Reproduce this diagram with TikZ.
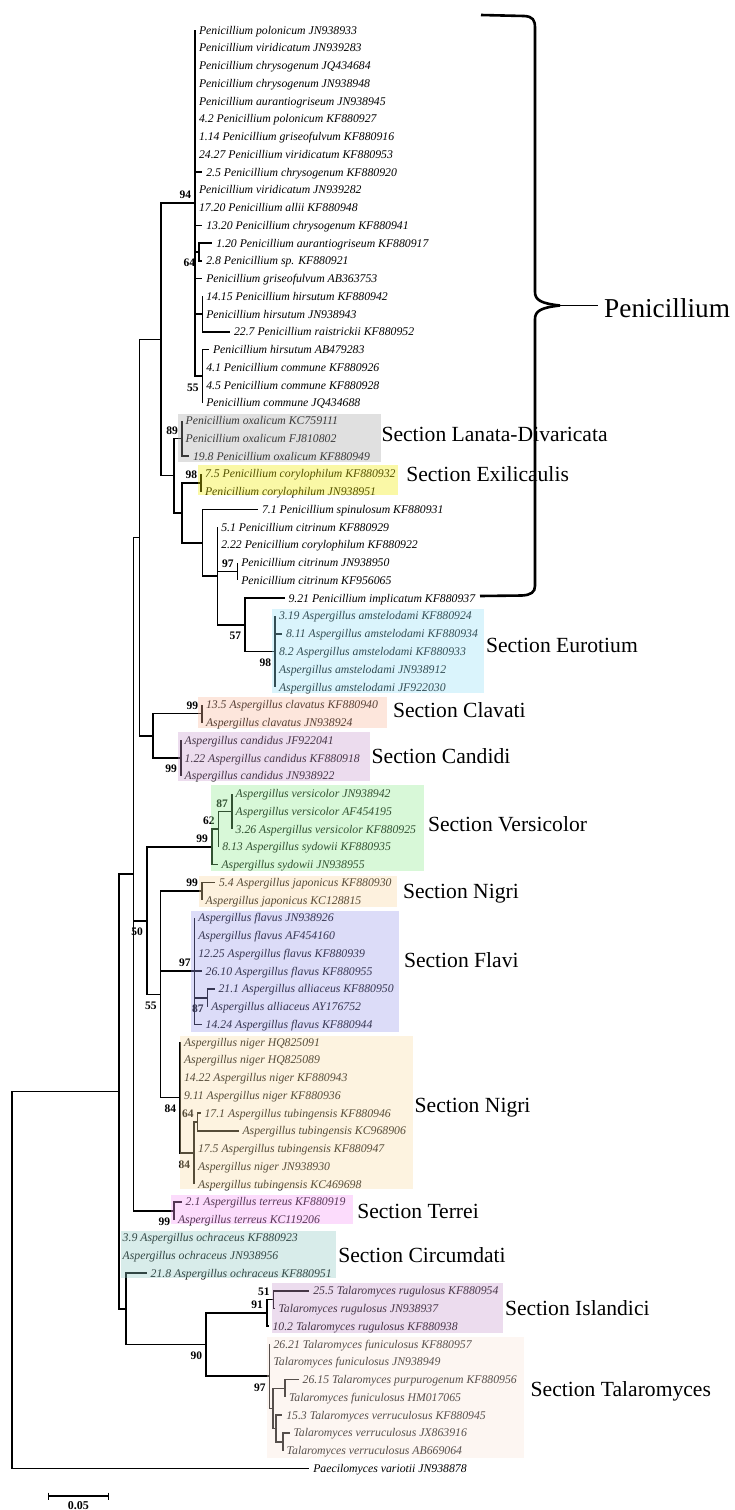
\documentclass[tikz,border=0pt]{standalone}
\usepackage{fontspec}
\setmainfont{Liberation Serif}
\definecolor{cLD}{RGB}{166,166,166}
\definecolor{cEx}{RGB}{241,235,0}
\definecolor{cEu}{RGB}{149,224,246}
\definecolor{cCl}{RGB}{249,184,155}
\definecolor{cCa}{RGB}{201,155,206}
\definecolor{cVe}{RGB}{144,235,144}
\definecolor{cNa}{RGB}{249,215,161}
\definecolor{cFl}{RGB}{155,155,235}
\definecolor{cNb}{RGB}{249,221,166}
\definecolor{cTe}{RGB}{246,155,246}
\definecolor{cCi}{RGB}{144,201,195}
\definecolor{cIs}{RGB}{201,155,206}
\definecolor{cTa}{RGB}{249,229,218}
\begin{document}
\begin{tikzpicture}[x=1pt,y=-1pt,
  br/.style={line width=1.6pt},
  leaf/.style={anchor=west, inner xsep=4pt, inner ysep=0pt, outer sep=0pt, text height=8pt, text depth=0pt, font=\fontsize{11.75}{12}\selectfont\itshape},
  bs/.style={anchor=base east, inner sep=0pt, outer sep=0pt, font=\fontsize{11.5}{12}\selectfont\bfseries},
  bsup/.style={bs, xshift=-3.8pt, yshift=4.3pt},
  bsdn/.style={bs, xshift=-3.8pt, yshift=-14.9pt},
  sec/.style={anchor=base west, inner sep=0pt, outer sep=0pt, font=\fontsize{21.6}{24}\selectfont},
  ov/.style={fill opacity=0.35}]
\useasboundingbox (0,0) rectangle (735,1510);

\begin{scope}[y=-17.757pt, yshift=-30pt]
% internal nodes
\coordinate (root) at (11.7,70.39);
\coordinate (nK) at (118.7,59.78);
\coordinate (nH) at (133.3,47.54);
\coordinate (nB) at (139.3,28.585);
\coordinate (nA) at (161,17.42);
\coordinate (n94) at (195,9.75);
\coordinate (n64) at (199,12.5);
\coordinate (nHir) at (202.3,16);
\coordinate (n55) at (202.3,19.5);
\coordinate (nC) at (174,25.09);
\coordinate (n89) at (181.7,23);
\coordinate (nD) at (181.7,27.1875);
\coordinate (n98) at (201,25.5);
\coordinate (nE) at (202.3,28.875);
\coordinate (nF) at (217.3,30.75);
\coordinate (n97c) at (237.3,30.5);
\coordinate (nG) at (245,33.5);
\coordinate (nEur) at (275,35);
\coordinate (nCC) at (152.7,39.75);
\coordinate (nCl) at (202,38.5);
\coordinate (nCa) at (180.7,41);
\coordinate (nI) at (146.7,50.16);
\coordinate (nV) at (211.7,46);
\coordinate (n62) at (218.3,45);
\coordinate (n87v) at (231.7,44);
\coordinate (nJ) at (160.3,54.31);
\coordinate (nJap) at (201.7,48.5);
\coordinate (nFl) at (194.3,53);
\coordinate (n87f) at (207.3,54.5);
\coordinate (nNi) at (180,60.125);
\coordinate (n84b) at (194,63.25);
\coordinate (n64n) at (197.3,61.5);
\coordinate (nTer) at (174,66.5);
\coordinate (nL) at (125.7,72.02);
\coordinate (n90) at (206,74.03);
\coordinate (n91) at (266.7,72.25);
\coordinate (n51) at (273.3,71.5);
\coordinate (nT) at (269.5,75.81);
\coordinate (nQ) at (272.7,77.625);
\coordinate (nP) at (285,76.5);
\coordinate (nR) at (276,78.75);
\coordinate (nS) at (282.7,79.5);

% leaves
\node[leaf] (l0) at (195,0) {Penicillium polonicum JN938933};
\node[leaf] (l1) at (195,1) {Penicillium viridicatum JN939283};
\node[leaf] (l2) at (195,2) {Penicillium chrysogenum JQ434684};
\node[leaf] (l3) at (195,3) {Penicillium chrysogenum JN938948};
\node[leaf] (l4) at (195,4) {Penicillium aurantiogriseum JN938945};
\node[leaf] (l5) at (195,5) {4.2 Penicillium polonicum KF880927};
\node[leaf] (l6) at (195,6) {1.14 Penicillium griseofulvum KF880916};
\node[leaf] (l7) at (195,7) {24.27 Penicillium viridicatum KF880953};
\node[leaf] (l8) at (202.3,8) {2.5 Penicillium chrysogenum KF880920};
\node[leaf] (l9) at (195,9) {Penicillium viridicatum JN939282};
\node[leaf] (l10) at (195,10) {17.20 Penicillium allii KF880948};
\node[leaf] (l11) at (202.3,11) {13.20 Penicillium chrysogenum KF880941};
\node[leaf] (l12) at (212.3,12) {1.20 Penicillium aurantiogriseum KF880917};
\node[leaf] (l13) at (202.3,13) {2.8 Penicillium sp. KF880921};
\node[leaf] (l14) at (202.3,14) {Penicillium griseofulvum AB363753};
\node[leaf] (l15) at (202.3,15) {14.15 Penicillium hirsutum KF880942};
\node[leaf] (l16) at (202.3,16) {Penicillium hirsutum JN938943};
\node[leaf] (l17) at (230,17) {22.7 Penicillium raistrickii KF880952};
\node[leaf] (l18) at (209,18) {Penicillium hirsutum AB479283};
\node[leaf] (l19) at (202.3,19) {4.1 Penicillium commune KF880926};
\node[leaf] (l20) at (202.3,20) {4.5 Penicillium commune KF880928};
\node[leaf] (l21) at (202.3,21) {Penicillium commune JQ434688};
\node[leaf] (l22) at (181.7,22) {Penicillium oxalicum KC759111};
\node[leaf] (l23) at (181.7,23) {Penicillium oxalicum FJ810802};
\node[leaf] (l24) at (189,24) {19.8 Penicillium oxalicum KF880949};
\node[leaf] (l25) at (201,25) {7.5 Penicillium corylophilum KF880932};
\node[leaf] (l26) at (201,26) {Penicillium corylophilum JN938951};
\node[leaf] (l27) at (258,27) {7.1 Penicillium spinulosum KF880931};
\node[leaf] (l28) at (217.3,28) {5.1 Penicillium citrinum KF880929};
\node[leaf] (l29) at (217.3,29) {2.22 Penicillium corylophilum KF880922};
\node[leaf] (l30) at (237.3,30) {Penicillium citrinum JN938950};
\node[leaf] (l31) at (237.3,31) {Penicillium citrinum KF956065};
\node[leaf] (l32) at (284.5,32) {9.21 Penicillium implicatum KF880937};
\node[leaf] (l33) at (275,33) {3.19 Aspergillus amstelodami KF880924};
\node[leaf] (l34) at (282,34) {8.11 Aspergillus amstelodami KF880934};
\node[leaf] (l35) at (275,35) {8.2 Aspergillus amstelodami KF880933};
\node[leaf] (l36) at (275,36) {Aspergillus amstelodami JN938912};
\node[leaf] (l37) at (275,37) {Aspergillus amstelodami JF922030};
\node[leaf] (l38) at (202,38) {13.5 Aspergillus clavatus KF880940};
\node[leaf] (l39) at (202,39) {Aspergillus clavatus JN938924};
\node[leaf] (l40) at (180.7,40) {Aspergillus candidus JF922041};
\node[leaf] (l41) at (180.7,41) {1.22 Aspergillus candidus KF880918};
\node[leaf] (l42) at (180.7,42) {Aspergillus candidus JN938922};
\node[leaf] (l43) at (231.7,43) {Aspergillus versicolor JN938942};
\node[leaf] (l44) at (231.7,44) {Aspergillus versicolor AF454195};
\node[leaf] (l45) at (231.7,45) {3.26 Aspergillus versicolor KF880925};
\node[leaf] (l46) at (218.3,46) {8.13 Aspergillus sydowii KF880935};
\node[leaf] (l47) at (217.5,47) {Aspergillus sydowii JN938955};
\node[leaf] (l48) at (215,48) {5.4 Aspergillus japonicus KF880930};
\node[leaf] (l49) at (201.7,49) {Aspergillus japonicus KC128815};
\node[leaf] (l50) at (194.3,50) {Aspergillus flavus JN938926};
\node[leaf] (l51) at (194.3,51) {Aspergillus flavus AF454160};
\node[leaf] (l52) at (194.3,52) {12.25 Aspergillus flavus KF880939};
\node[leaf] (l53) at (201.7,53) {26.10 Aspergillus flavus KF880955};
\node[leaf] (l54) at (214.5,54) {21.1 Aspergillus alliaceus KF880950};
\node[leaf] (l55) at (207.3,55) {Aspergillus alliaceus AY176752};
\node[leaf] (l56) at (201.7,56) {14.24 Aspergillus flavus KF880944};
\node[leaf] (l57) at (180,57) {Aspergillus niger HQ825091};
\node[leaf] (l58) at (180,58) {Aspergillus niger HQ825089};
\node[leaf] (l59) at (180,59) {14.22 Aspergillus niger KF880943};
\node[leaf] (l60) at (180,60) {9.11 Aspergillus niger KF880936};
\node[leaf] (l61) at (200.5,61) {17.1 Aspergillus tubingensis KF880946};
\node[leaf] (l62) at (238.5,62) {Aspergillus tubingensis KC968906};
\node[leaf] (l63) at (194,63) {17.5 Aspergillus tubingensis KF880947};
\node[leaf] (l64) at (194,64) {Aspergillus niger JN938930};
\node[leaf] (l65) at (194,65) {Aspergillus tubingensis KC469698};
\node[leaf] (l66) at (181.7,66) {2.1 Aspergillus terreus KF880919};
\node[leaf] (l67) at (174,67) {Aspergillus terreus KC119206};
\node[leaf] (l68) at (118.7,68) {3.9 Aspergillus ochraceus KF880923};
\node[leaf] (l69) at (118.7,69) {Aspergillus ochraceus JN938956};
\node[leaf] (l70) at (146.7,70) {21.8 Aspergillus ochraceus KF880951};
\node[leaf] (l71) at (309.3,71) {25.5 Talaromyces rugulosus KF880954};
\node[leaf] (l72) at (274.5,72) {Talaromyces rugulosus JN938937};
\node[leaf] (l73) at (268.5,73) {10.2 Talaromyces rugulosus KF880938};
\node[leaf] (l74) at (269.5,74) {26.21 Talaromyces funiculosus KF880957};
\node[leaf] (l75) at (269.5,75) {Talaromyces funiculosus JN938949};
\node[leaf] (l76) at (298.7,76) {26.15 Talaromyces purpurogenum KF880956};
\node[leaf] (l77) at (285,77) {Talaromyces funiculosus HM017065};
\node[leaf] (l78) at (282.3,78) {15.3 Talaromyces verruculosus KF880945};
\node[leaf] (l79) at (289.5,79) {Talaromyces verruculosus JX863916};
\node[leaf] (l80) at (282.7,80) {Talaromyces verruculosus AB669064};
\node[leaf] (l81) at (309.3,81) {Paecilomyces variotii JN938878};
\end{scope}

% branches
\draw[br] (root) |- (nK);
\draw[br] (root) |- (l81.west);
\draw[br] (nK) |- (nH);
\draw[br] (nK) |- (l68.west);
\draw[br] (nK) |- (l69.west);
\draw[br] (nK) |- (nL);
\draw[br] (nH) |- (nB);
\draw[br] (nH) |- (nI);
\draw[br] (nH) |- (nTer);
\draw[br] (nB) |- (nA);
\draw[br] (nB) |- (nCC);
\draw[br] (nA) |- (n94);
\draw[br] (nA) |- (nC);
\foreach \i in {0,...,11,14} \draw[br] (n94) |- (l\i.west);
\draw[br] (n94) |- (n64);
\draw[br] (n94) |- (nHir);
\draw[br] (n94) |- (n55);
\foreach \i in {12,13} \draw[br] (n64) |- (l\i.west);
\foreach \i in {15,16,17} \draw[br] (nHir) |- (l\i.west);
\foreach \i in {18,...,21} \draw[br] (n55) |- (l\i.west);
\draw[br] (nC) |- (n89);
\draw[br] (nC) |- (nD);
\foreach \i in {22,23,24} \draw[br] (n89) |- (l\i.west);
\draw[br] (nD) |- (n98);
\draw[br] (nD) |- (nE);
\foreach \i in {25,26} \draw[br] (n98) |- (l\i.west);
\draw[br] (nE) |- (l27.west);
\draw[br] (nE) |- (nF);
\foreach \i in {28,29} \draw[br] (nF) |- (l\i.west);
\draw[br] (nF) |- (n97c);
\draw[br] (nF) |- (nG);
\foreach \i in {30,31} \draw[br] (n97c) |- (l\i.west);
\draw[br] (nG) |- (l32.west);
\draw[br] (nG) |- (nEur);
\foreach \i in {33,...,37} \draw[br] (nEur) |- (l\i.west);
\draw[br] (nCC) |- (nCl);
\draw[br] (nCC) |- (nCa);
\foreach \i in {38,39} \draw[br] (nCl) |- (l\i.west);
\foreach \i in {40,41,42} \draw[br] (nCa) |- (l\i.west);
\draw[br] (nI) |- (nV);
\draw[br] (nI) |- (nJ);
\draw[br] (nV) |- (n62);
\draw[br] (nV) |- (l47.west);
\draw[br] (n62) |- (n87v);
\draw[br] (n62) |- (l46.west);
\foreach \i in {43,44,45} \draw[br] (n87v) |- (l\i.west);
\draw[br] (nJ) |- (nJap);
\draw[br] (nJ) |- (nFl);
\draw[br] (nJ) |- (nNi);
\foreach \i in {48,49} \draw[br] (nJap) |- (l\i.west);
\foreach \i in {50,...,53,56} \draw[br] (nFl) |- (l\i.west);
\draw[br] (nFl) |- (n87f);
\foreach \i in {54,55} \draw[br] (n87f) |- (l\i.west);
\foreach \i in {57,...,60} \draw[br] (nNi) |- (l\i.west);
\draw[br] (nNi) |- (n84b);
\draw[br] (n84b) |- (n64n);
\foreach \i in {63,64,65} \draw[br] (n84b) |- (l\i.west);
\foreach \i in {61,62} \draw[br] (n64n) |- (l\i.west);
\foreach \i in {66,67} \draw[br] (nTer) |- (l\i.west);
\draw[br] (nL) |- (l70.west);
\draw[br] (nL) |- (n90);
\draw[br] (n90) |- (n91);
\draw[br] (n90) |- (nT);
\draw[br] (n91) |- (n51);
\draw[br] (n91) |- (l73.west);
\foreach \i in {71,72} \draw[br] (n51) |- (l\i.west);
\foreach \i in {74,75} \draw[br] (nT) |- (l\i.west);
\draw[br] (nT) |- (nQ);
\draw[br] (nQ) |- (nP);
\draw[br] (nQ) |- (nR);
\foreach \i in {76,77} \draw[br] (nP) |- (l\i.west);
\draw[br] (nR) |- (l78.west);
\draw[br] (nR) |- (nS);
\foreach \i in {79,80} \draw[br] (nS) |- (l\i.west);

% bootstrap values
\node[bsup] (b94) at (n94) {94};
\node[bsdn] (b64) at (n64) {64};
\node[bsdn] (b55) at (n55) {55};
\node[bsup] (b89) at (n89) {89};
\node[bsup] (b98) at (n98) {98};
\node[bsup] (b97c) at (n97c) {97};
\node[bsdn] (b57) at (nG) {57};
\node[bsdn] (b98e) at (nEur) {98};
\node[bsup] (b99cl) at (nCl) {99};
\node[bsdn] (b99ca) at (nCa) {99};
\node[bsup] (b87v) at (n87v) {87};
\node[bsup] (b62) at (n62) {62};
\node[bsup] (b99v) at (nV) {99};
\node[bsup] (b99j) at (nJap) {99};
\node[bsdn] (b50) at (nI) {50};
\node[bsup] (b97f) at (nFl) {97};
\node[bsdn] (b87f) at (n87f) {87};
\node[bsdn] (b55j) at (nJ) {55};
\node[bsdn] (b84) at (nNi) {84};
\node[bsdn] (b84b) at (n84b) {84};
\node[bsup] (b64n) at (n64n) {64};
\node[bsdn] (b99t) at (nTer) {99};
\node[bsup] (b51) at (n51) {51};
\node[bsup] (b91) at (n91) {91};
\node[bsdn] (b90) at (n90) {90};
\node[bsdn] (b97t) at (nT) {97};

% coloured section boxes (translucent overlay)
\fill[cLD,ov] (178.3,414) rectangle (380.7,461.7);
\fill[cEx,ov] (197.7,465) rectangle (398.3,495);
\fill[cEu,ov] (271.7,609.3) rectangle (484,693.3);
\fill[cCl,ov] (197.7,696.7) rectangle (386.7,728.3);
\fill[cCa,ov] (178.3,731.7) rectangle (370,781);
\fill[cVe,ov] (210.7,785) rectangle (424.3,870.7);
\fill[cNa,ov] (199.3,875.7) rectangle (396.7,906.7);
\fill[cFl,ov] (191,910.7) rectangle (399.3,1031.7);
\fill[cNb,ov] (180,1036) rectangle (412.7,1188.7);
\fill[cTe,ov] (171,1194.5) rectangle (353,1224.2);
\fill[cCi,ov] (120.5,1231) rectangle (336,1278.3);
\fill[cIs,ov] (271.7,1282.7) rectangle (503.3,1333.3);
\fill[cTa,ov] (266.7,1336.7) rectangle (524.3,1457.7);

% section labels
\node[sec] (sLD) at (381.5,441.2) {Section Lanata-Divaricata};
\node[sec] (sEx) at (406.3,481.8) {Section Exilicaulis};
\node[sec] (sEu) at (486,652.2) {Section Eurotium};
\node[sec] (sCl) at (393,717.6) {Section Clavati};
\node[sec] (sCa) at (371.7,763.8) {Section Candidi};
\node[sec] (sVe) at (428,831.2) {Section Versicolor};
\node[sec] (sNa) at (403,898.2) {Section Nigri};
\node[sec] (sFl) at (404,967.2) {Section Flavi};
\node[sec] (sNb) at (414.7,1112.2) {Section Nigri};
\node[sec] (sTe) at (357.3,1218.2) {Section Terrei};
\node[sec] (sCi) at (338.3,1262.2) {Section Circumdati};
\node[sec] (sIs) at (505,1315.2) {Section Islandici};
\node[sec] (sTa) at (530.7,1396.2) {Section Talaromyces};

% Penicillium brace
\coordinate (brTop) at (481,15);
\coordinate (brTip) at (560,305.5);
\coordinate (brEnd) at (598,305.5);
\coordinate (brBot) at (480,596);
\draw[line width=2.6pt] (brTop) -- (524,16) .. controls (533,16.5) and (535,20) .. (535,28)
  -- (535,292) .. controls (535,300) and (541,303.5) .. (brTip);
\draw[line width=2.6pt] (brTip) .. controls (541,307.5) and (535,311) .. (535,319)
  -- (535,586) .. controls (535,592) and (531,595) .. (522,595.5) -- (brBot);
\draw[line width=1.5pt] (brTip) -- (brEnd);
\node[anchor=base west, inner sep=0pt, font=\fontsize{27.3}{30}\selectfont] (pen) at (604,317) {Penicillium};

% scale bar
\coordinate (sbL) at (48.3,1496);
\coordinate (sbR) at (108.3,1496);
\draw[line width=1.5pt] (sbL) -- (sbR);
\draw[line width=1.3pt] ([yshift=3.5pt]sbL) -- ([yshift=-3.5pt]sbL);
\draw[line width=1.3pt] ([yshift=3.5pt]sbR) -- ([yshift=-3.5pt]sbR);
\node[anchor=base, inner sep=0pt, font=\fontsize{12}{12}\selectfont\bfseries] (sbT) at (78.3,1509.3) {0.05};
\end{tikzpicture}
\end{document}
